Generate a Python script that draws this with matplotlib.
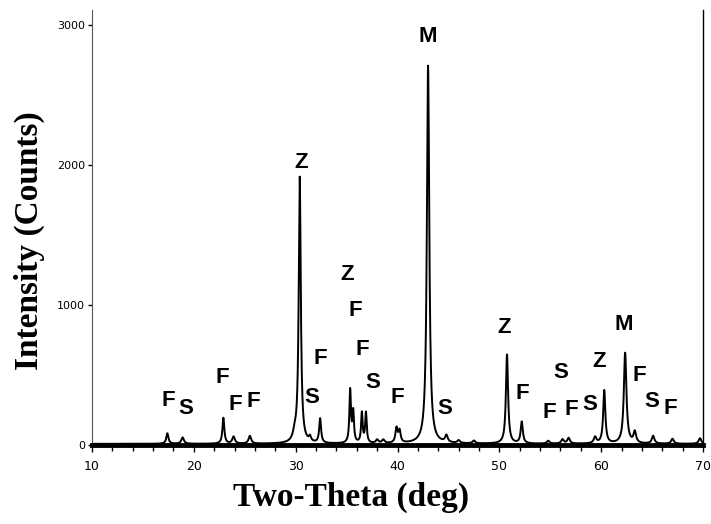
import numpy as np
import matplotlib
matplotlib.use("Agg")
import matplotlib.pyplot as plt
from matplotlib.ticker import MultipleLocator

# peak list: position (deg 2-theta), height (counts), fwhm (deg)
peak_pos = [17.4, 18.9, 22.9, 23.9, 25.5, 29.9, 30.4, 31.4, 32.4,
            35.35, 35.65, 36.5, 36.9, 38.0, 38.6, 39.9, 40.2,
            43.0, 44.8, 46.0, 47.5, 50.75, 52.2, 54.8, 56.2, 56.8,
            59.4, 60.3, 62.35, 63.3, 65.1, 67.0, 69.7]
peak_height = [75, 45, 185, 50, 55, 50, 1900, 35, 175,
               380, 220, 215, 215, 25, 25, 105, 85,
               2700, 50, 20, 20, 640, 155, 20, 30, 40,
               45, 380, 650, 80, 55, 35, 40]
peak_fwhm = [0.25, 0.3, 0.22, 0.3, 0.3, 0.4, 0.24, 0.25, 0.22,
             0.18, 0.18, 0.18, 0.18, 0.3, 0.3, 0.25, 0.25,
             0.28, 0.3, 0.3, 0.3, 0.25, 0.25, 0.3, 0.3, 0.3,
             0.3, 0.25, 0.3, 0.3, 0.3, 0.3, 0.3]

# phase labels: letter, x (deg), y (counts)
lab_text = ["F", "S", "F", "F", "F", "Z", "S", "F", "Z", "F", "F", "S", "F",
            "M", "S", "Z", "F", "S", "F", "F", "S", "Z", "M", "F", "S", "F"]
lab_x = [17.46, 19.23, 22.77, 24.04, 25.81, 30.52, 31.6, 32.39, 35.04, 35.83,
         36.51, 37.6, 39.95, 43.0, 44.67, 50.46, 52.23, 56.06, 54.88, 57.04,
         58.9, 59.79, 62.24, 63.71, 64.99, 66.76]
lab_y = [321, 264, 479, 286, 307, 2020, 336, 621, 1221, 957, 679, 443, 336,
         2914, 264, 836, 371, 521, 229, 250, 286, 593, 857, 493, 307, 264]

x = np.arange(10, 70.001, 0.02)
y = np.full_like(x, 8.0)
for p, h, w in zip(peak_pos, peak_height, peak_fwhm):
    g = w / 2
    y += h * g**2 / ((x - p)**2 + g**2)

fig = plt.figure(figsize=(7.11, 5.24), dpi=100)
ax = fig.add_axes([0.1294, 0.1508, 0.8594, 0.8302])

ax.plot(x, y, color="black", lw=1.4)
ax.set_xlim(10, 70)
ax.set_ylim(0, 3107)

for t, lx, ly in zip(lab_text, lab_x, lab_y):
    ax.text(lx, ly, t, ha="center", va="center", fontsize=16,
            fontweight="bold", family="Liberation Sans")

ax.spines["top"].set_visible(False)
ax.spines["bottom"].set_linewidth(3.5)
ax.spines["left"].set_color("#555555")
ax.spines["right"].set_linewidth(1.0)

ax.set_xticks([10, 20, 30, 40, 50, 60, 70])
ax.xaxis.set_minor_locator(MultipleLocator(2))
ax.set_yticks([0, 1000, 2000, 3000])
ax.tick_params(axis="x", which="major", direction="out", length=5, width=1,
               labelsize=9, pad=6)
ax.tick_params(axis="x", which="minor", direction="out", length=4, width=1)
ax.tick_params(axis="y", direction="out", length=3, width=1, labelsize=8, pad=2)
for lbl in ax.get_xticklabels() + ax.get_yticklabels():
    lbl.set_family(["Liberation Sans Narrow", "DejaVu Sans"])

ax.set_xlabel("Two-Theta (deg)", family="Liberation Serif", fontweight="bold",
              fontsize=24, labelpad=4)
ax.xaxis.set_label_coords(0.424, -0.085)
ax.set_ylabel("Intensity (Counts)", family="Liberation Serif", fontweight="bold",
              fontsize=24, labelpad=12)
ax.yaxis.set_label_coords(-0.077, 0.469)

fig.savefig("out.png", dpi=100)
